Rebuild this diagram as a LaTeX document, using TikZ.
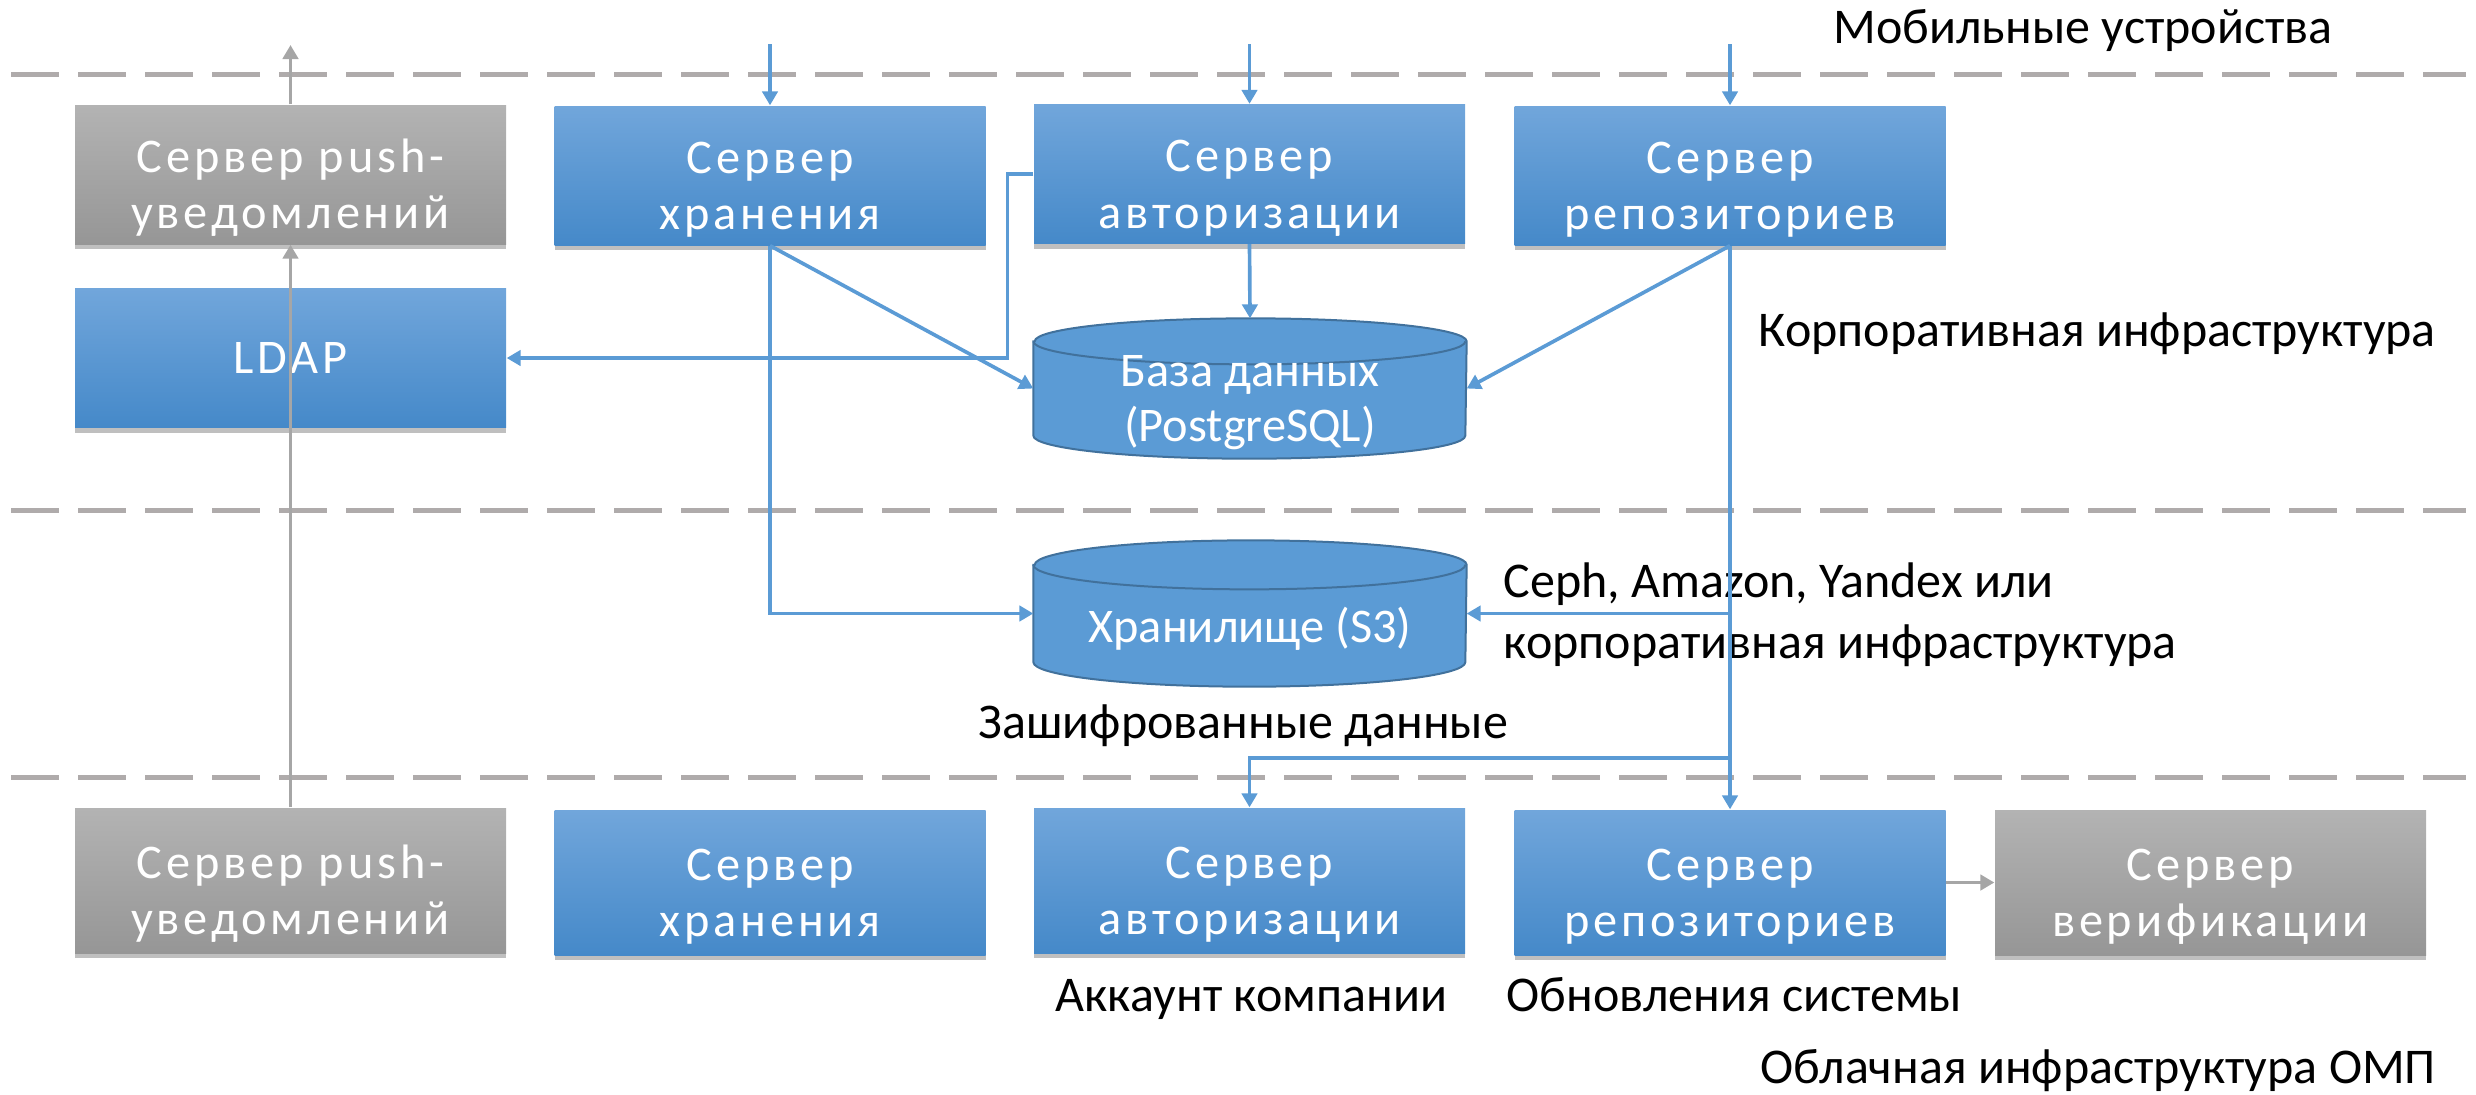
\documentclass[tikz,border=0pt]{standalone}
\usepackage{fontspec}
\setmainfont{Carlito}
\newfontfamily\boxfont[LetterSpace=8]{Carlito}
\usetikzlibrary{arrows.meta,shadows,calc}
\definecolor{bl}{HTML}{5B9BD5}
\definecolor{btop}{HTML}{71A6DB}
\definecolor{bbot}{HTML}{4589C9}
\definecolor{gtop}{HTML}{B3B3B3}
\definecolor{gbot}{HTML}{969696}
\definecolor{garrow}{HTML}{A6A6A6}
\definecolor{sepc}{HTML}{AFABAB}
\definecolor{cylfill}{HTML}{5B9BD5}
\definecolor{cylline}{HTML}{41719C}
\newcommand\boxstrut{\rule{0pt}{18pt}}
\begin{document}
\begin{tikzpicture}[x=0.3pt,y=-0.3pt,
  srv/.style={minimum width=129.3pt, minimum height=41.7pt, inner sep=0pt, align=center,
    text=white, font=\boxfont\fontsize{14.5}{17}\selectfont,
    drop shadow={shadow xshift=0pt, shadow yshift=-1.5pt, opacity=0.25, fill=black}},
  srvlow/.style={minimum height=43.5pt},
  bluebox/.style={srv, top color=btop, bottom color=bbot},
  graybox/.style={srv, top color=gtop, bottom color=gbot},
  cylbox/.style={minimum width=129.6pt, minimum height=41.7pt, inner sep=0pt},
  cyl/.style={fill=cylfill, draw=cylline, line width=0.6pt},
  cyltext/.style={align=center, text=white, font=\fontsize{14.5}{16.5}\selectfont, inner sep=0pt},
  conn/.style={draw=bl, line width=1.1pt},
  arr/.style={conn, -{Triangle[length=4.2pt,width=4.6pt]}},
  garr/.style={draw=garrow, line width=1.1pt, -{Triangle[length=4.2pt,width=4.6pt]}},
  sep/.style={draw=sepc, line width=1.5pt, dash pattern=on 14.4pt off 5.7pt},
  lbl/.style={font=\fontsize{15}{18}\selectfont, inner sep=0pt, anchor=base west},
]
\useasboundingbox (0,0) rectangle (2476,1094);

% separators
\draw[sep] (11,74) -- (2466,74);
\draw[sep] (11,510) -- (2466,510);
\draw[sep] (11,777) -- (2466,777);

% top row
\node[graybox] (push1) at (290.5,174.5) {\boxstrut Сервер push-\\уведомлений};
\node[bluebox] (stor1) at (770,175.5) {\boxstrut Сервер\\хранения};
\node[bluebox] (auth1) at (1249.5,174) {\boxstrut Сервер\\авторизации};
\node[bluebox] (repo1) at (1730,175.5) {\boxstrut Сервер\\репозиториев};
\node[bluebox] (ldap) at (290.5,358) {LDAP};

% bottom row
\node[graybox, srvlow] (push2) at (290.5,880.5) {\boxstrut Сервер push-\\уведомлений};
\node[bluebox, srvlow] (stor2) at (770,882.5) {\boxstrut Сервер\\хранения};
\node[bluebox, srvlow] (auth2) at (1249.5,880.5) {\boxstrut Сервер\\авторизации};
\node[bluebox, srvlow] (repo2) at (1730,882.5) {\boxstrut Сервер\\репозиториев};
\node[graybox, srvlow] (verif) at (2210.5,882.5) {\boxstrut Сервер\\верификации};

% database cylinder
\node[cylbox] (db) at (1250,388.5) {};
\path[cyl] ($(db.north west)+(0,23)$) -- ($(db.south west)+(0,-23)$)
  arc[start angle=180,end angle=360,x radius=64.8pt,y radius=6.9pt]
  -- ($(db.north east)+(0,23)$)
  arc[start angle=0,end angle=180,x radius=64.8pt,y radius=6.9pt] -- cycle;
\draw[cylline, line width=0.6pt] ($(db.north west)+(0,23)$)
  arc[start angle=180,end angle=360,x radius=64.8pt,y radius=6.9pt];
\node[cyltext] (dbtxt) at (1250,403) {База данных\\(PostgreSQL)};

% S3 cylinder
\node[cylbox, minimum height=43.5pt] (s3) at (1250,613.5) {};
\path[cyl] ($(s3.north west)+(0,24.5)$) -- ($(s3.south west)+(0,-24.5)$)
  arc[start angle=180,end angle=360,x radius=64.8pt,y radius=7.35pt]
  -- ($(s3.north east)+(0,24.5)$)
  arc[start angle=0,end angle=180,x radius=64.8pt,y radius=7.35pt] -- cycle;
\draw[cylline, line width=0.6pt] ($(s3.north west)+(0,24.5)$)
  arc[start angle=180,end angle=360,x radius=64.8pt,y radius=7.35pt];
\node[cyltext] (s3txt) at (1250,629) {Хранилище (S3)};

% labels
\node[lbl] (mob) at (1833,43) {Мобильные устройства};
\node[lbl] (corp) at (1758,346) {Корпоративная инфраструктура};
\node[lbl] (ceph1) at (1503,597) {Ceph, Amazon, Yandex или};
\node[lbl] (ceph2) at (1503,658) {корпоративная инфраструктура};
\node[lbl] (enc) at (978,738) {Зашифрованные данные};
\node[lbl] (acc) at (1055,1011) {Аккаунт компании};
\node[lbl] (upd) at (1506,1011) {Обновления системы};
\node[lbl] (cloud) at (1760,1083) {Облачная инфраструктура ОМП};

% free ends
\coordinate (m1) at (770,44);
\coordinate (m2) at (1249.5,44);
\coordinate (m3) at (1730,44);
\coordinate (pu) at (290.5,45);
\coordinate (br) at (1730,758);

% blue connectors
\draw[arr] (m1) -- (stor1.north);
\draw[arr] (m2) -- (auth1.north);
\draw[arr] (m3) -- (repo1.north);
\draw[arr] (auth1.west) -- ++(-26,0) |- (ldap.east);
\draw[arr] (auth1.south) -- (db.north);
\draw[arr] (stor1.south) -- (db.west);
\draw[arr] (repo1.south) -- (db.east);
\draw[arr] (stor1.south) |- (s3.west);
\draw[arr] (repo1.south) -- (repo2.north);
\draw[arr] (repo1.south |- s3.east) -- (s3.east);
\draw[arr] (br) -| (auth2.north);

% gray connectors
\draw[garr] (push2.north) -- (push1.south);
\draw[garr] (push1.north) -- (pu);
\draw[garr] (repo2.east) -- (verif.west);
\end{tikzpicture}
\end{document}
